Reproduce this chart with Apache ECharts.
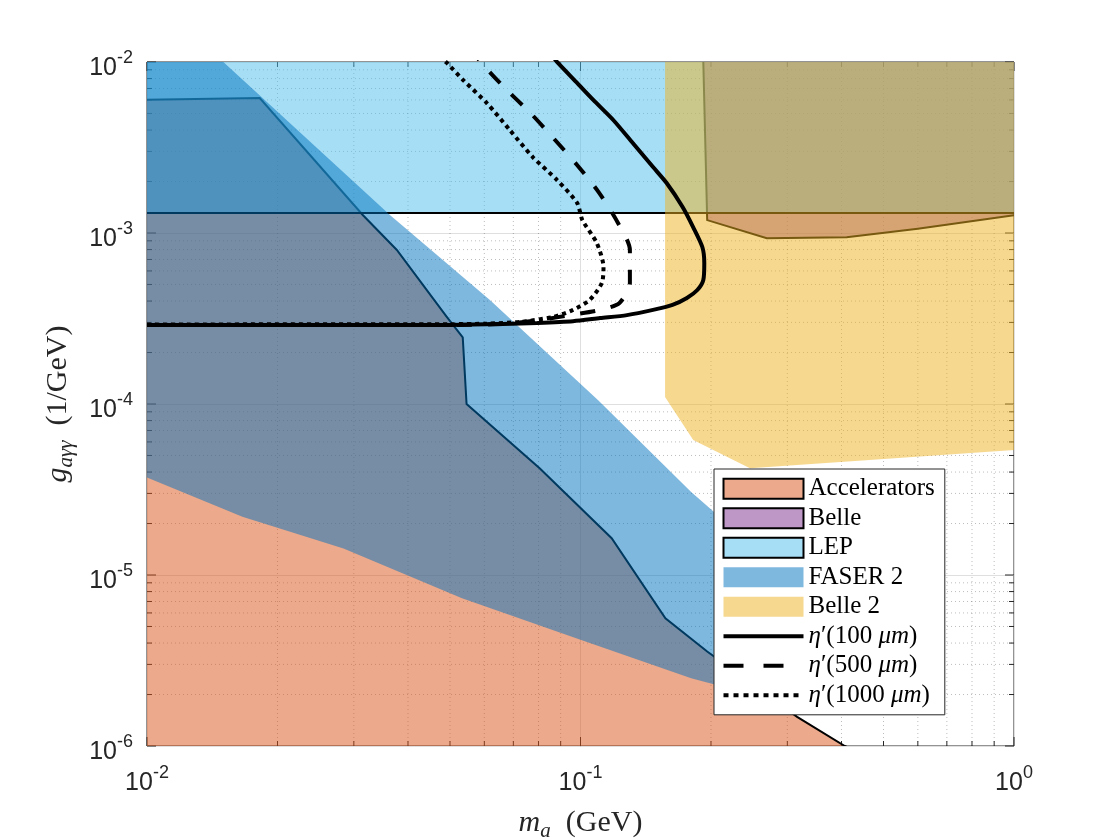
<!DOCTYPE html>
<html>
<head>
<meta charset="utf-8">
<script src="https://cdn.jsdelivr.net/npm/echarts/dist/echarts.min.js"></script>
<style>
html, body { margin: 0; padding: 0; background: #fff; }
#chart { width: 1120px; height: 840px; }
</style>
</head>
<body>
<div id="chart"></div>
<script>
// axis ticks (log scale)
var xMajor = [0.01, 0.1, 1];
var yMajor = [1e-6, 1e-5, 1e-4, 1e-3, 1e-2];
var xMinor = [0.02, 0.03, 0.04, 0.05, 0.06, 0.07, 0.08, 0.09, 0.2, 0.3, 0.4, 0.5, 0.6, 0.7, 0.8, 0.9];
var yMinor = [];
[1e-6, 1e-5, 1e-4, 1e-3].forEach(function (d) {
	for (var k = 2; k <= 9; k++) yMinor.push(k * d);
});

// excluded / sensitivity regions, [m_a, g] vertices
var accelerators = [[0.005, 5.85e-3], [0.0182, 6.15e-3], [0.0315, 1.27e-3], [0.0377, 7.96e-4], [0.0491, 3.24e-4],
	[0.0535, 2.45e-4], [0.0546, 1.0e-4], [0.0806, 4.2e-5], [0.118, 1.64e-5], [0.157, 5.58e-6], [0.196, 3.57e-6],
	[0.316, 1.48e-6], [0.407, 1e-6], [0.5, 8e-7], [0.5, 5e-7], [0.005, 5e-7]];
var belle = [[0.1915, 1.5e-2], [0.192, 1e-2], [0.196, 1.19e-3], [0.269, 9.31e-4], [0.411, 9.44e-4], [0.6, 1.06e-3],
	[1, 1.27e-3], [1.3, 1.4e-3], [1.3, 1.5e-2]];
var lep = [[0.005, 1.31e-3], [2, 1.31e-3], [2, 2e-2], [0.005, 2e-2]];
var faser2 = [[0.0122, 1.58e-2], [0.015, 1e-2], [0.0364, 1.27e-3], [0.0618, 4.06e-4], [0.110, 1.05e-4], [0.180, 3.06e-5],
	[0.203, 2.34e-5], [0.3, 8e-6], [0.3, 1.9e-6], [0.203, 2.30e-6], [0.180, 2.49e-6], [0.1, 4.18e-6], [0.0533, 7.31e-6],
	[0.0284, 1.43e-5], [0.0166, 2.19e-5], [0.01, 3.72e-5], [0.005, 6e-5], [0.005, 1.58e-2]];
var belle2 = [[0.1567, 1.5e-2], [0.1567, 1.10e-4], [0.182, 6.15e-5], [0.246, 4.21e-5], [1, 5.38e-5], [1.3, 5.5e-5], [1.3, 1.5e-2]];

// eta' reach curves
var eta100 = [[0.01, 2.9e-4], [0.05, 2.9e-4], [0.0662, 2.94e-4], [0.0795, 2.98e-4], [0.0961, 3.05e-4], [0.111, 3.18e-4],
	[0.128, 3.31e-4], [0.147, 3.55e-4], [0.163, 3.80e-4], [0.176, 4.17e-4], [0.186, 4.64e-4], [0.192, 5.31e-4],
	[0.193, 6.68e-4], [0.191, 8.28e-4], [0.182, 1.08e-3], [0.172, 1.42e-3], [0.158, 1.96e-3], [0.147, 2.43e-3],
	[0.132, 3.36e-3], [0.119, 4.58e-3], [0.107, 6.0e-3], [0.0982, 7.54e-3], [0.0887, 9.87e-3], [0.087, 1.05e-2]];
var eta500 = [[0.01, 2.9e-4], [0.05, 2.9e-4], [0.0662, 2.94e-4], [0.0807, 3.10e-4], [0.0946, 3.31e-4], [0.111, 3.55e-4],
	[0.123, 3.90e-4], [0.130, 5.10e-4], [0.130, 7.96e-4], [0.121, 1.19e-3], [0.110, 1.74e-3], [0.0982, 2.50e-3],
	[0.0865, 3.60e-3], [0.0766, 5.04e-3], [0.0676, 6.86e-3], [0.0596, 9.6e-3], [0.058, 1.05e-2]];
var eta1000 = [[0.01, 2.92e-4], [0.05, 2.93e-4], [0.0608, 2.95e-4], [0.0725, 3.02e-4], [0.0865, 3.23e-4], [0.0961, 3.55e-4],
	[0.105, 4.06e-4], [0.112, 5.10e-4], [0.113, 6.32e-4], [0.109, 8.75e-4], [0.101, 1.19e-3], [0.0982, 1.50e-3],
	[0.0883, 2.04e-3], [0.0776, 2.78e-3], [0.0687, 4.00e-3], [0.0608, 5.75e-3], [0.0536, 7.85e-3], [0.0492, 9.87e-3],
	[0.048, 1.05e-2]];

var axisColor = '#262626';
var serif = 'Liberation Serif';

function regionSeries(name, pts, fill, edge, z) {
	return {
		name: name,
		type: 'custom',
		z: z,
		clip: true,
		silent: true,
		itemStyle: { color: fill },
		data: [pts[1]],
		renderItem: function (params, api) {
			var points = pts.map(function (p) { return api.coord(p); });
			return {
				type: 'polygon',
				shape: { points: points },
				style: { fill: fill, stroke: edge ? '#000' : null, lineWidth: edge ? 2 : 0 }
			};
		}
	};
}

function seg(x1, y1, x2, y2, style) {
	return { type: 'line', shape: { x1: x1, y1: y1, x2: x2, y2: y2 }, style: style };
}

// minor grid + ticks on all 4 sides (matlab style, under the patches)
function frameItem(params, api) {
	var kids = [];
	var bl = api.coord([0.01, 1e-6]), tr = api.coord([1, 1e-2]);
	var dotted = { stroke: 'rgba(38,38,38,0.3)', lineWidth: 1, lineDash: [1, 3] };
	var tick = { stroke: axisColor, lineWidth: 1 };
	xMinor.forEach(function (v) {
		var x = api.coord([v, 1e-6])[0];
		kids.push(seg(x, bl[1], x, tr[1], dotted));
		kids.push(seg(x, bl[1], x, bl[1] - 5, tick));
		kids.push(seg(x, tr[1], x, tr[1] + 5, tick));
	});
	xMajor.forEach(function (v) {
		var x = api.coord([v, 1e-6])[0];
		kids.push(seg(x, bl[1], x, bl[1] - 9, tick));
		kids.push(seg(x, tr[1], x, tr[1] + 9, tick));
	});
	yMinor.forEach(function (v) {
		var y = api.coord([0.01, v])[1];
		kids.push(seg(bl[0], y, tr[0], y, dotted));
		kids.push(seg(bl[0], y, bl[0] + 5, y, tick));
		kids.push(seg(tr[0], y, tr[0] - 5, y, tick));
	});
	yMajor.forEach(function (v) {
		var y = api.coord([0.01, v])[1];
		kids.push(seg(bl[0], y, bl[0] + 9, y, tick));
		kids.push(seg(tr[0], y, tr[0] - 9, y, tick));
	});
	return { type: 'group', children: kids };
}

function powLabel(v) {
	return '{b|10}{e|' + Math.round(Math.log10(v)) + '}';
}
var powRich = {
	b: { fontSize: 25, lineHeight: 32, verticalAlign: 'bottom', fontFamily: 'Liberation Sans', color: axisColor },
	e: { fontSize: 18, lineHeight: 32, verticalAlign: 'top', fontFamily: 'Liberation Sans', color: axisColor }
};
function nameRich(size) {
	return {
		i: { fontFamily: serif, fontStyle: 'italic', fontSize: size, lineHeight: 38 },
		s: { fontFamily: serif, fontStyle: 'italic', fontSize: Math.round(size * 0.7), lineHeight: 38, verticalAlign: 'bottom' }
	};
}

var myChart = echarts.init(document.getElementById('chart'), null, { renderer: 'canvas' });

var option = {
	animation: false,
	backgroundColor: '#fff',
	grid: {
		left: 147, right: 106, top: 62, bottom: 94,
		containLabel: false, outerBoundsMode: 'none',
		show: true, borderColor: axisColor, borderWidth: 1
	},
	xAxis: {
		type: 'log', logBase: 10, min: 0.01, max: 1,
		name: '{i|m}{s|a}\u2002(GeV)',
		nameLocation: 'middle', nameGap: 58,
		nameTextStyle: { fontFamily: serif, fontSize: 30, color: axisColor, lineHeight: 38, rich: nameRich(30) },
		axisLine: { show: false },
		axisTick: { show: false },
		splitLine: { show: true, lineStyle: { color: '#dfdfdf', width: 1 } },
		axisLabel: { margin: 18, formatter: powLabel, rich: powRich }
	},
	yAxis: {
		type: 'log', logBase: 10, min: 1e-6, max: 1e-2,
		name: '{i|g}{s|aγγ}\u2002(1/GeV)',
		nameLocation: 'middle', nameGap: 70, nameRotate: 90,
		nameTextStyle: { fontFamily: serif, fontSize: 30, color: axisColor, lineHeight: 38, rich: nameRich(30) },
		axisLine: { show: false },
		axisTick: { show: false },
		splitLine: { show: true, lineStyle: { color: '#dfdfdf', width: 1 } },
		axisLabel: { margin: 14, padding: [6, 0, 0, 0], formatter: powLabel, rich: powRich }
	},
	legend: {
		orient: 'vertical', left: 714, top: 469, z: 20,
		padding: [7.3, 10, 7, 7.5],
		itemWidth: 80, itemHeight: 20, itemGap: 4.5,
		backgroundColor: '#fff', borderColor: axisColor, borderWidth: 1,
		selectedMode: false,
		textStyle: {
			fontFamily: serif, fontSize: 25, color: '#000',
			rich: { i: { fontFamily: serif, fontStyle: 'italic', fontSize: 25, color: '#000' } }
		},
		formatter: function (name) {
			return name.replace('η', '{i|η}').replace('μm', '{i|μm}');
		},
		data: [
			{ name: 'Accelerators', icon: 'rect', itemStyle: { borderColor: '#000', borderWidth: 2 } },
			{ name: 'Belle', icon: 'rect', itemStyle: { borderColor: '#000', borderWidth: 2 } },
			{ name: 'LEP', icon: 'rect', itemStyle: { borderColor: '#000', borderWidth: 2 } },
			{ name: 'FASER 2', icon: 'rect', itemStyle: { borderWidth: 0 } },
			{ name: 'Belle 2', icon: 'rect', itemStyle: { borderWidth: 0 } },
			{ name: 'η′(100 μm)', itemStyle: { opacity: 0 }, lineStyle: { width: 4, type: 'solid' } },
			{ name: 'η′(500 μm)', itemStyle: { opacity: 0 }, lineStyle: { width: 4, type: [20, 20] } },
			{ name: 'η′(1000 μm)', itemStyle: { opacity: 0 }, lineStyle: { width: 4, type: [5, 5] } }
		]
	},
	series: [
		{ name: 'frame', type: 'custom', z: 1, silent: true, data: [[0.1, 1e-4]], renderItem: frameItem },
		regionSeries('Accelerators', accelerators, 'rgba(217,83,25,0.5)', true, 2),
		regionSeries('Belle', belle, 'rgba(126,47,142,0.5)', true, 3),
		regionSeries('LEP', lep, 'rgba(77,190,238,0.5)', true, 4),
		regionSeries('FASER 2', faser2, 'rgba(0,114,189,0.5)', false, 5),
		regionSeries('Belle 2', belle2, 'rgba(237,177,32,0.5)', false, 6),
		{
			name: 'η′(100 μm)', type: 'line', z: 7, silent: true, symbol: 'none', smooth: 0.25,
			data: eta100, itemStyle: { color: '#000' }, lineStyle: { color: '#000', width: 4, type: 'solid' }
		},
		{
			name: 'η′(500 μm)', type: 'line', z: 7, silent: true, symbol: 'none', smooth: 0.25,
			data: eta500, itemStyle: { color: '#000' }, lineStyle: { color: '#000', width: 4, type: [15, 16] }
		},
		{
			name: 'η′(1000 μm)', type: 'line', z: 7, silent: true, symbol: 'none', smooth: 0.25,
			data: eta1000, itemStyle: { color: '#000' }, lineStyle: { color: '#000', width: 4, type: [4, 4] }
		}
	]
};

myChart.setOption(option);
</script>
</body>
</html>
